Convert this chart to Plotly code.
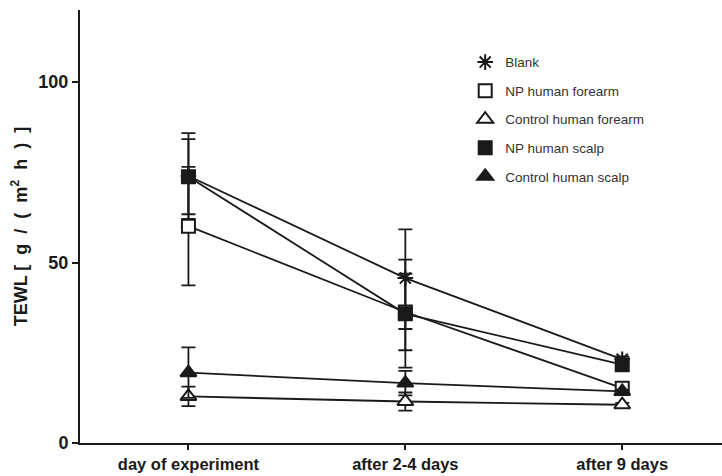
import plotly.graph_objects as go

categories = ["day of experiment", "after 2-4 days", "after 9 days"]

blank = [74.0, 45.7, 23.2]
blank_up = [11.9, 13.5, 0.8]
blank_dn = [11.9, 14.1, 0.8]

np_forearm = [60.1, 36.3, 15.2]
np_forearm_up = [16.4, 10.6, 0.8]
np_forearm_dn = [16.4, 10.6, 0.8]

ctrl_forearm = [12.9, 11.5, 10.6]
ctrl_forearm_up = [2.7, 2.5, 0.5]
ctrl_forearm_dn = [2.7, 2.5, 0.5]

np_scalp = [73.8, 35.8, 21.7]
np_scalp_up = [10.4, 15.0, 0.8]
np_scalp_dn = [10.4, 14.9, 0.8]

ctrl_scalp = [19.5, 16.6, 14.3]
ctrl_scalp_up = [7.0, 3.4, 0.5]
ctrl_scalp_dn = [7.0, 3.4, 0.5]

names = ["Blank", "NP human forearm", "Control human forearm", "NP human scalp", "Control human scalp"]
y_ticks = [0, 50, 100]

FONT = "Liberation Sans, Arial, sans-serif"
BLACK = "#1a1a1a"

series = [
    (names[0], blank, blank_up, blank_dn, "asterisk-open", BLACK, 13),
    (names[1], np_forearm, np_forearm_up, np_forearm_dn, "square", "white", 13),
    (names[2], ctrl_forearm, ctrl_forearm_up, ctrl_forearm_dn, "triangle-up", "white", 14),
    (names[3], np_scalp, np_scalp_up, np_scalp_dn, "square", BLACK, 13),
    (names[4], ctrl_scalp, ctrl_scalp_up, ctrl_scalp_dn, "triangle-up", BLACK, 14),
]

fig = go.Figure()
xs = list(range(len(categories)))
for name, y, up, dn, sym, fill, size in series:
    fig.add_trace(go.Scatter(
        x=xs, y=y, mode="lines+markers", name=name, showlegend=False,
        line=dict(color=BLACK, width=1.8),
        marker=dict(symbol=sym, size=size, color=fill,
                    line=dict(color=BLACK, width=2)),
        error_y=dict(type="data", array=up, arrayminus=dn, symmetric=False,
                     color=BLACK, thickness=1.8, width=7),
    ))
for i, (name, y, up, dn, sym, fill, size) in enumerate(series):
    fig.add_trace(go.Scatter(
        x=[None], y=[None], mode="markers", name=name, legendgroup=str(i),
        marker=dict(symbol=sym, size=size, color=fill,
                    line=dict(color=BLACK, width=2)),
    ))

S = "\u00a0\u00a0"
ytitle = "<b>TEWL [" + S + "g" + S + "/" + S + "(" + S + "m<sup>2</sup>" + S + "h" + S + ")" + S + "]</b>"

fig.update_layout(
    width=722, height=476,
    margin=dict(l=80, r=0, t=10, b=33),
    paper_bgcolor="white", plot_bgcolor="white",
    font=dict(family=FONT, color=BLACK),
    showlegend=True,
    legend=dict(x=0.6, y=0.915, xanchor="left", yanchor="top",
                font=dict(size=13.5, color="#333333", family=FONT),
                tracegroupgap=8, traceorder="grouped",
                bgcolor="rgba(0,0,0,0)", itemwidth=30),
    xaxis=dict(range=[-0.5, 2.46], tickmode="array", tickvals=xs,
               ticktext=["<b>%s</b>" % c for c in categories],
               showgrid=False, zeroline=False, showline=True,
               linecolor=BLACK, linewidth=2, ticks="outside", ticklen=5,
               tickwidth=1.5, tickcolor=BLACK,
               tickfont=dict(size=16.5, family=FONT, color=BLACK)),
    yaxis=dict(range=[0, 120], tickmode="array", tickvals=y_ticks,
               ticktext=["<b>%d</b>" % v for v in y_ticks],
               showgrid=False, zeroline=False, showline=True,
               linecolor=BLACK, linewidth=2, ticks="outside", ticklen=6,
               tickwidth=2, tickcolor=BLACK,
               tickfont=dict(size=18, family=FONT, color=BLACK),
               title=dict(text=ytitle,
                          font=dict(size=18, family=FONT, color=BLACK),
                          standoff=6)),
)

fig.write_html("out.html")
